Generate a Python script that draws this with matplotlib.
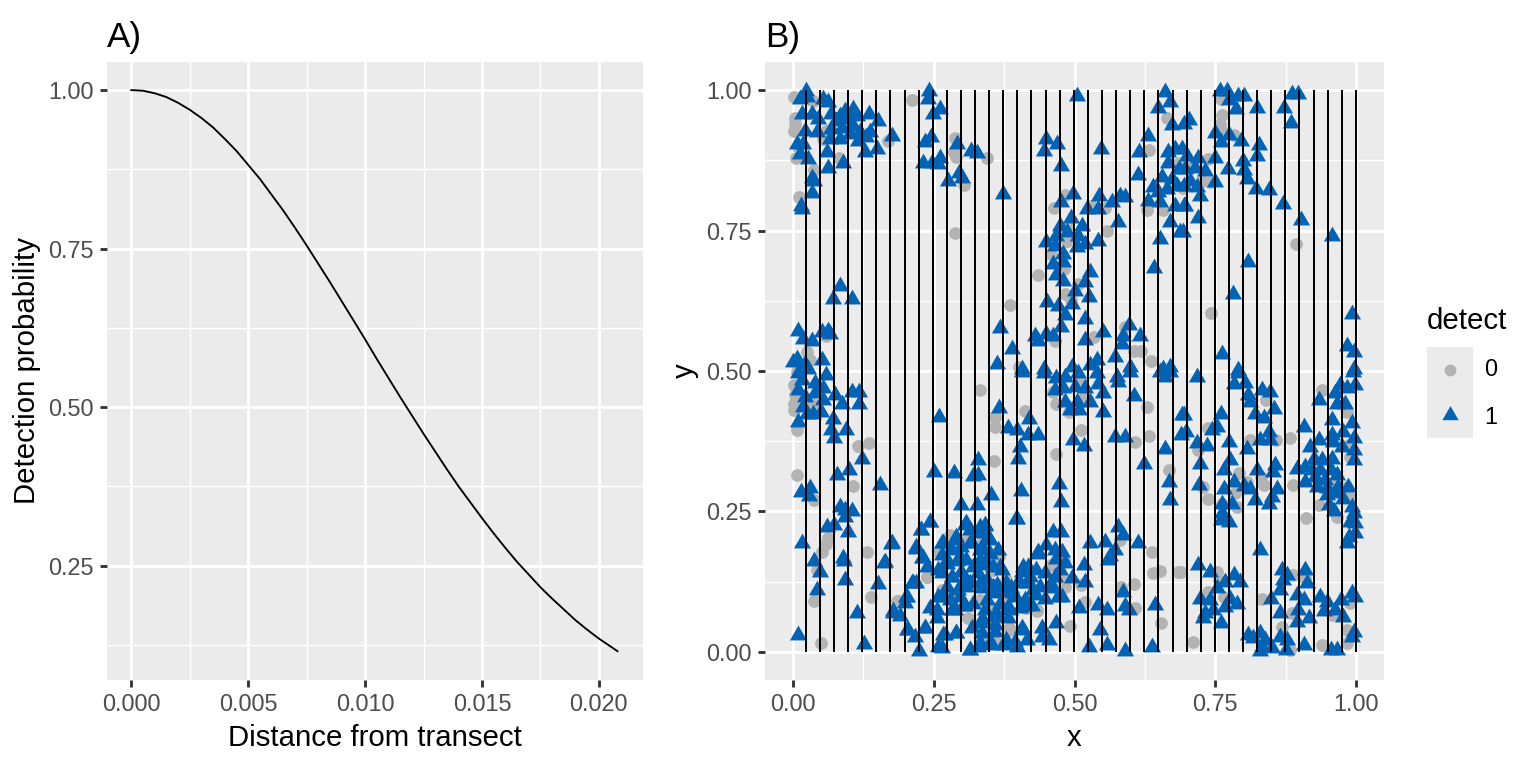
import numpy as np
import matplotlib
matplotlib.use('Agg')
import matplotlib.pyplot as plt

plt.rcParams['font.family'] = ['Liberation Sans', 'DejaVu Sans']

# panel A: detection function
curve_dist = [0.0, 0.0005, 0.001, 0.0015, 0.002, 0.0025, 0.003, 0.0035, 0.004, 0.0045, 0.005,
              0.0055, 0.006, 0.0065, 0.007, 0.0075, 0.008, 0.0085, 0.009, 0.0095, 0.010,
              0.0105, 0.011, 0.0115, 0.012, 0.0125, 0.013, 0.0135, 0.014, 0.0145, 0.015,
              0.0155, 0.016, 0.0165, 0.017, 0.0175, 0.018, 0.0185, 0.019, 0.0195, 0.020,
              0.0204, 0.0208]
curve_prob = [1.000, 0.999, 0.995, 0.989, 0.980, 0.969, 0.956, 0.941, 0.923, 0.904, 0.882,
              0.860, 0.835, 0.810, 0.783, 0.755, 0.726, 0.697, 0.667, 0.637, 0.607,
              0.576, 0.546, 0.516, 0.487, 0.458, 0.430, 0.402, 0.375, 0.350, 0.325,
              0.301, 0.278, 0.256, 0.236, 0.216, 0.198, 0.181, 0.164, 0.149, 0.135,
              0.125, 0.115]

# panel B: transect positions
transect_x = [0.0225, 0.0476, 0.0726, 0.0977, 0.1228, 0.1478, 0.1729, 0.1980, 0.2230, 0.2481,
              0.2731, 0.2982, 0.3233, 0.3483, 0.3734, 0.3985, 0.4235, 0.4486, 0.4737, 0.4987,
              0.5238, 0.5488, 0.5739, 0.5990, 0.6240, 0.6491, 0.6742, 0.6992, 0.7243, 0.7494,
              0.7744, 0.7995, 0.8245, 0.8496, 0.8747, 0.8997, 0.9248, 0.9499, 0.9749, 1.0]

# detect == 0 (grey circles), x/y pairs
det0 = np.array([
    [0.001, 0.988], [0.036, 0.981], [0.211, 0.982], [0.003, 0.951], [0.003, 0.939], [0.002, 0.928],
    [0.059, 0.928], [0.053, 0.913], [0.169, 0.910], [0.008, 0.898], [0.005, 0.879], [0.081, 0.879],
    [0.037, 0.858], [0.011, 0.809], [0.288, 0.914], [0.285, 0.889], [0.289, 0.881], [0.303, 0.831],
    [0.288, 0.746], [0.059, 0.563], [0.024, 0.533], [0.030, 0.519], [0.009, 0.510], [0.008, 0.501],
    [0.664, 0.950], [0.344, 0.880], [0.633, 0.893], [0.685, 0.871], [0.692, 0.825], [0.484, 0.813],
    [0.464, 0.791], [0.530, 0.793], [0.554, 0.790], [0.628, 0.787], [0.658, 0.787], [0.486, 0.758],
    [0.486, 0.732], [0.557, 0.750], [0.458, 0.708], [0.481, 0.682], [0.436, 0.671], [0.507, 0.655],
    [0.483, 0.637], [0.494, 0.627], [0.385, 0.618], [0.465, 0.554], [0.535, 0.560], [0.590, 0.578],
    [0.605, 0.536], [0.618, 0.535], [0.636, 0.517], [0.402, 0.507],
    [0.760, 0.984], [0.763, 0.956], [0.758, 0.939], [0.763, 0.928], [0.784, 0.920], [0.738, 0.877],
    [0.705, 0.871], [0.691, 0.871], [0.726, 0.839], [0.741, 0.836], [0.692, 0.827], [0.894, 0.726],
    [0.742, 0.603],
    [0.006, 0.498], [0.002, 0.475], [0.003, 0.457], [0.002, 0.442], [0.002, 0.430], [0.036, 0.442],
    [0.007, 0.395], [0.116, 0.366], [0.135, 0.372], [0.006, 0.315], [0.107, 0.295], [0.037, 0.270],
    [0.062, 0.202], [0.058, 0.192], [0.052, 0.177], [0.042, 0.146], [0.132, 0.178], [0.037, 0.090],
    [0.138, 0.098], [0.049, 0.015], [0.186, 0.090], [0.238, 0.133], [0.261, 0.178], [0.279, 0.208],
    [0.264, 0.107], [0.285, 0.098], [0.304, 0.128], [0.311, 0.060], [0.311, 0.205],
    [0.338, 0.202], [0.258, 0.178], [0.365, 0.170], [0.359, 0.149], [0.305, 0.128], [0.237, 0.134],
    [0.264, 0.110], [0.383, 0.098], [0.359, 0.078], [0.332, 0.092], [0.184, 0.090], [0.385, 0.039],
    [0.332, 0.021], [0.361, 0.015], [0.415, 0.078], [0.433, 0.072],
    [0.332, 0.467], [0.359, 0.418], [0.359, 0.401], [0.412, 0.428], [0.461, 0.463], [0.468, 0.442],
    [0.490, 0.427], [0.508, 0.484], [0.516, 0.454], [0.512, 0.395], [0.628, 0.436], [0.608, 0.374],
    [0.632, 0.385], [0.467, 0.353], [0.357, 0.340], [0.668, 0.324], [0.341, 0.199], [0.365, 0.170],
    [0.356, 0.146], [0.379, 0.128], [0.383, 0.098], [0.360, 0.078], [0.332, 0.092], [0.383, 0.042],
    [0.332, 0.021], [0.362, 0.015], [0.433, 0.075], [0.412, 0.078], [0.458, 0.155], [0.482, 0.164],
    [0.483, 0.128], [0.483, 0.116], [0.465, 0.116], [0.512, 0.119], [0.519, 0.089], [0.492, 0.046],
    [0.583, 0.116], [0.605, 0.120], [0.608, 0.079], [0.637, 0.177], [0.640, 0.140], [0.652, 0.144],
    [0.684, 0.143], [0.654, 0.052], [0.581, 0.199],
    [0.841, 0.448], [0.812, 0.451], [0.940, 0.467], [0.984, 0.427], [0.738, 0.398], [0.720, 0.359],
    [0.811, 0.377], [0.858, 0.377], [0.883, 0.381], [0.987, 0.368], [0.990, 0.347], [0.792, 0.318],
    [0.806, 0.303], [0.832, 0.312], [0.836, 0.297], [0.889, 0.297], [0.785, 0.282], [0.788, 0.258],
    [0.762, 0.264], [0.738, 0.273], [0.729, 0.294], [0.960, 0.297], [0.981, 0.291], [0.987, 0.276],
    [0.934, 0.261], [0.912, 0.238], [0.966, 0.241], [0.689, 0.143], [0.754, 0.143], [0.757, 0.128],
    [0.738, 0.107], [0.765, 0.098], [0.833, 0.095], [0.889, 0.137], [0.910, 0.131], [0.886, 0.069],
    [0.869, 0.044], [0.957, 0.066], [0.990, 0.087], [0.984, 0.039], [0.984, 0.015], [0.939, 0.012],
    [0.710, 0.017], [0.883, 0.004],
])

# detect == 1 (blue triangles), x/y pairs
det1 = np.array([
    [0.023, 0.998], [0.012, 0.985], [0.024, 0.987], [0.053, 0.984], [0.062, 0.978], [0.015, 0.957],
    [0.033, 0.957], [0.045, 0.948], [0.068, 0.957], [0.083, 0.954], [0.092, 0.963], [0.107, 0.966],
    [0.077, 0.945], [0.098, 0.948], [0.113, 0.954], [0.068, 0.930], [0.086, 0.933], [0.107, 0.936],
    [0.119, 0.925], [0.134, 0.957], [0.136, 0.925], [0.151, 0.945], [0.065, 0.913], [0.083, 0.913],
    [0.101, 0.922], [0.116, 0.910], [0.130, 0.916], [0.042, 0.925], [0.021, 0.928], [0.006, 0.904],
    [0.018, 0.904], [0.012, 0.886], [0.060, 0.889], [0.127, 0.889], [0.149, 0.896], [0.175, 0.919],
    [0.027, 0.877], [0.089, 0.871], [0.062, 0.862], [0.033, 0.844], [0.037, 0.839], [0.033, 0.817],
    [0.014, 0.794], [0.015, 0.788], [0.241, 0.998], [0.240, 0.984], [0.249, 0.957], [0.261, 0.966],
    [0.245, 0.916], [0.234, 0.907], [0.231, 0.871], [0.246, 0.871], [0.261, 0.880], [0.258, 0.868],
    [0.276, 0.839], [0.294, 0.853], [0.300, 0.844], [0.291, 0.904], [0.316, 0.892], [0.083, 0.652],
    [0.071, 0.628], [0.105, 0.628], [0.009, 0.572], [0.018, 0.557], [0.033, 0.554], [0.051, 0.569],
    [0.062, 0.572], [0.065, 0.566], [0.006, 0.522], [0.000, 0.516], [0.021, 0.513], [0.051, 0.519],
    [0.027, 0.504],
    [0.504, 0.990], [0.660, 0.996], [0.648, 0.969], [0.670, 0.978], [0.674, 0.938], [0.694, 0.939],
    [0.326, 0.888], [0.449, 0.913], [0.446, 0.892], [0.469, 0.904], [0.547, 0.896], [0.631, 0.919],
    [0.615, 0.890], [0.476, 0.864], [0.612, 0.848], [0.373, 0.815], [0.476, 0.800], [0.498, 0.815],
    [0.522, 0.788], [0.542, 0.788], [0.544, 0.812], [0.566, 0.801], [0.581, 0.812], [0.590, 0.809],
    [0.631, 0.803], [0.640, 0.827], [0.648, 0.818], [0.652, 0.800], [0.667, 0.889], [0.679, 0.895],
    [0.667, 0.871], [0.685, 0.859], [0.655, 0.845], [0.673, 0.842], [0.682, 0.830], [0.664, 0.824],
    [0.679, 0.794], [0.694, 0.794], [0.670, 0.765], [0.688, 0.748], [0.652, 0.735], [0.494, 0.773],
    [0.474, 0.758], [0.513, 0.758], [0.468, 0.741], [0.486, 0.747], [0.507, 0.741], [0.519, 0.726],
    [0.449, 0.730], [0.465, 0.723], [0.504, 0.720], [0.542, 0.732], [0.577, 0.765], [0.480, 0.708],
    [0.462, 0.691], [0.480, 0.694], [0.468, 0.670], [0.480, 0.661], [0.527, 0.677], [0.519, 0.658],
    [0.501, 0.643], [0.525, 0.631], [0.642, 0.683], [0.452, 0.622], [0.471, 0.616], [0.495, 0.619],
    [0.484, 0.599], [0.519, 0.593], [0.476, 0.578], [0.368, 0.577], [0.430, 0.563], [0.436, 0.554],
    [0.450, 0.566], [0.462, 0.562], [0.389, 0.539], [0.519, 0.556], [0.551, 0.569], [0.587, 0.563],
    [0.596, 0.581], [0.584, 0.548], [0.616, 0.563], [0.572, 0.525], [0.363, 0.513], [0.406, 0.504],
    [0.446, 0.504], [0.495, 0.507], [0.528, 0.510], [0.540, 0.519], [0.599, 0.507], [0.658, 0.504],
    [0.670, 0.507],
    [0.759, 0.998], [0.771, 0.998], [0.775, 0.982], [0.791, 0.990], [0.802, 0.989], [0.886, 0.993],
    [0.898, 0.993], [0.825, 0.969], [0.873, 0.969], [0.787, 0.966], [0.704, 0.947], [0.884, 0.942],
    [0.750, 0.923], [0.775, 0.920], [0.760, 0.907], [0.796, 0.910], [0.827, 0.902], [0.825, 0.883],
    [0.691, 0.895], [0.700, 0.883], [0.720, 0.880], [0.750, 0.880], [0.800, 0.873], [0.772, 0.859],
    [0.802, 0.858], [0.806, 0.842], [0.697, 0.859], [0.714, 0.862], [0.732, 0.856], [0.750, 0.836],
    [0.705, 0.839], [0.717, 0.827], [0.694, 0.830], [0.723, 0.812], [0.697, 0.794], [0.720, 0.773],
    [0.692, 0.748], [0.823, 0.824], [0.845, 0.823], [0.871, 0.797], [0.903, 0.769], [0.957, 0.740],
    [0.809, 0.694], [0.781, 0.637], [0.994, 0.602], [0.984, 0.545], [0.997, 0.533], [0.763, 0.530],
    [0.997, 0.504], [0.790, 0.501],
    [0.009, 0.496], [0.015, 0.484], [0.009, 0.466], [0.021, 0.454], [0.018, 0.436], [0.024, 0.424],
    [0.039, 0.478], [0.059, 0.493], [0.053, 0.469], [0.053, 0.448], [0.039, 0.460], [0.036, 0.424],
    [0.050, 0.427], [0.009, 0.410], [0.074, 0.457], [0.086, 0.442], [0.071, 0.415], [0.068, 0.395],
    [0.072, 0.380], [0.094, 0.395], [0.104, 0.463], [0.117, 0.463], [0.117, 0.442], [0.123, 0.343],
    [0.260, 0.418], [0.078, 0.315], [0.099, 0.324], [0.154, 0.297], [0.014, 0.285], [0.030, 0.291],
    [0.029, 0.277], [0.251, 0.321], [0.285, 0.318], [0.320, 0.313], [0.299, 0.261], [0.083, 0.258],
    [0.092, 0.252], [0.104, 0.250], [0.092, 0.241], [0.061, 0.223], [0.073, 0.226], [0.097, 0.214],
    [0.016, 0.194], [0.174, 0.192], [0.089, 0.168], [0.091, 0.161], [0.037, 0.161], [0.047, 0.143],
    [0.162, 0.159], [0.092, 0.128], [0.150, 0.121], [0.043, 0.111], [0.113, 0.070], [0.009, 0.030],
    [0.126, 0.014], [0.243, 0.232], [0.227, 0.217], [0.219, 0.187], [0.229, 0.167], [0.237, 0.152],
    [0.267, 0.193], [0.288, 0.199], [0.305, 0.226], [0.314, 0.217], [0.264, 0.172], [0.282, 0.181],
    [0.299, 0.187], [0.317, 0.193], [0.273, 0.156], [0.291, 0.161], [0.308, 0.163], [0.264, 0.140],
    [0.282, 0.134], [0.299, 0.143], [0.314, 0.122], [0.273, 0.116], [0.293, 0.110], [0.308, 0.116],
    [0.258, 0.098], [0.279, 0.092], [0.243, 0.078], [0.288, 0.075], [0.305, 0.081], [0.255, 0.060],
    [0.234, 0.042], [0.270, 0.030], [0.290, 0.033], [0.317, 0.042], [0.258, 0.009], [0.264, 0.007],
    [0.314, 0.004], [0.224, 0.002], [0.202, 0.098], [0.211, 0.122], [0.199, 0.087], [0.178, 0.072],
    [0.190, 0.064], [0.203, 0.039], [0.216, 0.027], [0.219, 0.122],
    [0.243, 0.232], [0.228, 0.217], [0.264, 0.193], [0.290, 0.205], [0.308, 0.229], [0.332, 0.223],
    [0.341, 0.226], [0.314, 0.193], [0.332, 0.181], [0.350, 0.199], [0.364, 0.181], [0.273, 0.164],
    [0.296, 0.169], [0.320, 0.152], [0.344, 0.158], [0.368, 0.152], [0.258, 0.146], [0.282, 0.134],
    [0.308, 0.128], [0.332, 0.122], [0.355, 0.116], [0.379, 0.122], [0.409, 0.152], [0.421, 0.134],
    [0.403, 0.122], [0.427, 0.110], [0.391, 0.104], [0.267, 0.098], [0.296, 0.098], [0.320, 0.086],
    [0.344, 0.092], [0.367, 0.086], [0.255, 0.075], [0.282, 0.075], [0.302, 0.081], [0.361, 0.069],
    [0.385, 0.075], [0.415, 0.081], [0.213, 0.122], [0.201, 0.098], [0.178, 0.069], [0.205, 0.039],
    [0.234, 0.042], [0.267, 0.030], [0.290, 0.033], [0.332, 0.051], [0.332, 0.015], [0.314, 0.003],
    [0.350, 0.015], [0.358, 0.036], [0.379, 0.021], [0.406, 0.039], [0.397, 0.237], [0.163, 0.160],
    [0.175, 0.193], [0.219, 0.184], [0.231, 0.167], [0.433, 0.175], [0.415, 0.021],
    [0.406, 0.498], [0.446, 0.497], [0.468, 0.487], [0.483, 0.490], [0.507, 0.496], [0.540, 0.496],
    [0.575, 0.490], [0.578, 0.481], [0.599, 0.498], [0.661, 0.490], [0.670, 0.498], [0.465, 0.466],
    [0.480, 0.469], [0.501, 0.472], [0.519, 0.469], [0.542, 0.477], [0.551, 0.460], [0.605, 0.455],
    [0.483, 0.445], [0.504, 0.445], [0.528, 0.445], [0.492, 0.430], [0.508, 0.431], [0.551, 0.427],
    [0.366, 0.435], [0.420, 0.415], [0.382, 0.398], [0.397, 0.395], [0.418, 0.386], [0.435, 0.386],
    [0.691, 0.421], [0.690, 0.386], [0.498, 0.377], [0.517, 0.366], [0.572, 0.383], [0.590, 0.383],
    [0.660, 0.362], [0.403, 0.365], [0.399, 0.344], [0.329, 0.341], [0.328, 0.315], [0.624, 0.334],
    [0.668, 0.303], [0.669, 0.270], [0.473, 0.299], [0.352, 0.279], [0.405, 0.287], [0.476, 0.267],
    [0.326, 0.261], [0.396, 0.236], [0.341, 0.224], [0.332, 0.211], [0.347, 0.202], [0.335, 0.187],
    [0.350, 0.175], [0.332, 0.163], [0.341, 0.155], [0.356, 0.152], [0.371, 0.146], [0.329, 0.140],
    [0.344, 0.128], [0.362, 0.119], [0.335, 0.113], [0.353, 0.104], [0.373, 0.107], [0.388, 0.113],
    [0.406, 0.143], [0.418, 0.152], [0.431, 0.146], [0.448, 0.140], [0.400, 0.125], [0.418, 0.122],
    [0.439, 0.116], [0.457, 0.119], [0.394, 0.098], [0.412, 0.092], [0.430, 0.101], [0.448, 0.095],
    [0.471, 0.098], [0.382, 0.080], [0.403, 0.078], [0.424, 0.081], [0.341, 0.075], [0.359, 0.063],
    [0.338, 0.057], [0.359, 0.048], [0.382, 0.060], [0.335, 0.033], [0.353, 0.012], [0.329, 0.009],
    [0.374, 0.012], [0.394, 0.018], [0.397, 0.009], [0.406, 0.042], [0.442, 0.042], [0.442, 0.027],
    [0.455, 0.021], [0.468, 0.051], [0.436, 0.178], [0.450, 0.190], [0.462, 0.214], [0.476, 0.214],
    [0.465, 0.181], [0.477, 0.178], [0.468, 0.166], [0.483, 0.158], [0.475, 0.146], [0.495, 0.131],
    [0.465, 0.134], [0.462, 0.113], [0.478, 0.098], [0.578, 0.223], [0.587, 0.208], [0.554, 0.196],
    [0.572, 0.181], [0.563, 0.170], [0.560, 0.164], [0.527, 0.194], [0.613, 0.193], [0.517, 0.155],
    [0.519, 0.124], [0.587, 0.107], [0.596, 0.075], [0.589, 0.081], [0.557, 0.075], [0.541, 0.084],
    [0.508, 0.078], [0.643, 0.084], [0.546, 0.039], [0.557, 0.012], [0.525, 0.009], [0.590, 0.001],
    [0.637, 0.009], [0.652, 0.498],
    [0.718, 0.490], [0.790, 0.496], [0.783, 0.477], [0.803, 0.478], [0.809, 0.457], [0.812, 0.445],
    [0.833, 0.466], [0.848, 0.463], [0.854, 0.433], [0.821, 0.424], [0.836, 0.416], [0.760, 0.424],
    [0.694, 0.421], [0.753, 0.401], [0.744, 0.395], [0.699, 0.392], [0.845, 0.392], [0.830, 0.377],
    [0.848, 0.377], [0.806, 0.362], [0.774, 0.374], [0.717, 0.371], [0.735, 0.366], [0.723, 0.335],
    [0.776, 0.342], [0.765, 0.323], [0.783, 0.302], [0.801, 0.296], [0.765, 0.290], [0.721, 0.297],
    [0.824, 0.323], [0.857, 0.333], [0.853, 0.321], [0.859, 0.290], [0.812, 0.290], [0.821, 0.270],
    [0.845, 0.264], [0.851, 0.276], [0.780, 0.264], [0.762, 0.264], [0.762, 0.247], [0.760, 0.235],
    [0.775, 0.232], [0.830, 0.181], [0.907, 0.401], [0.934, 0.377], [0.957, 0.386], [0.966, 0.442],
    [0.963, 0.460], [0.972, 0.475], [0.984, 0.469], [0.934, 0.449], [0.998, 0.475], [0.995, 0.498],
    [0.981, 0.442], [0.957, 0.413], [0.993, 0.407], [0.978, 0.392], [0.996, 0.380], [0.975, 0.365],
    [0.996, 0.359], [0.996, 0.341], [0.960, 0.374], [0.919, 0.365], [0.925, 0.344], [0.940, 0.341],
    [0.957, 0.344], [0.895, 0.326], [0.910, 0.329], [0.922, 0.323], [0.937, 0.323], [0.955, 0.323],
    [0.966, 0.315], [0.928, 0.311], [0.946, 0.306], [0.910, 0.303], [0.931, 0.294], [0.948, 0.291],
    [0.968, 0.294], [0.986, 0.294], [0.963, 0.282], [0.948, 0.279], [0.977, 0.273], [0.953, 0.261],
    [0.961, 0.250], [0.993, 0.258], [0.996, 0.247], [0.998, 0.229], [0.990, 0.232], [0.998, 0.211],
    [0.987, 0.205], [0.984, 0.193], [0.720, 0.155], [0.741, 0.143], [0.768, 0.125], [0.783, 0.137],
    [0.794, 0.125], [0.753, 0.113], [0.723, 0.095], [0.741, 0.092], [0.777, 0.095], [0.788, 0.086],
    [0.768, 0.080], [0.747, 0.075], [0.732, 0.069], [0.729, 0.060], [0.761, 0.051], [0.868, 0.146],
    [0.877, 0.137], [0.865, 0.110], [0.871, 0.128], [0.910, 0.146], [0.913, 0.122], [0.849, 0.095],
    [0.895, 0.101], [0.907, 0.092], [0.865, 0.069], [0.898, 0.075], [0.895, 0.054], [0.916, 0.060],
    [0.937, 0.098], [0.949, 0.089], [0.973, 0.092], [0.993, 0.104], [0.998, 0.098], [0.943, 0.072],
    [0.963, 0.075], [0.978, 0.063], [0.996, 0.036], [0.993, 0.027], [0.809, 0.030], [0.818, 0.024],
    [0.830, 0.033], [0.839, 0.021], [0.833, 0.009], [0.851, 0.007], [0.865, 0.027], [0.877, 0.021],
    [0.876, 0.004], [0.907, 0.012], [0.955, 0.004], [0.966, 0.004], [0.830, 0.001],
])

BLUE = '#0063B6'
GREY = '#B3B3B3'
# equilateral triangle like ggplot shape 17
tri = [(0, 1), (-0.866, -0.5), (0.866, -0.5)]


def gg_style(ax):
    ax.set_facecolor('#EBEBEB')
    for s in ax.spines.values():
        s.set_visible(False)
    ax.grid(which='major', color='white', lw=1.07)
    ax.grid(which='minor', color='white', lw=0.53)
    ax.set_axisbelow(True)
    ax.tick_params(which='major', length=2.75, width=1.07, color='#333333',
                   labelcolor='#4D4D4D', labelsize=8.8, pad=2.2)
    ax.tick_params(which='minor', length=0)


fig = plt.figure(figsize=(8, 4), dpi=192)

# A) detection function
ax1 = fig.add_axes([107 / 1536, 88 / 768, 536 / 1536, 618 / 768])
gg_style(ax1)
ax1.plot(curve_dist, curve_prob, color='black', lw=0.7)
ax1.set_xlim(-0.00104, 0.02189)
ax1.set_ylim(0.0696, 1.0443)
ax1.set_xticks([0, 0.005, 0.010, 0.015, 0.020])
ax1.set_xticklabels(['0.000', '0.005', '0.010', '0.015', '0.020'])
ax1.set_xticks([0.0025, 0.0075, 0.0125, 0.0175], minor=True)
ax1.set_yticks([0.25, 0.50, 0.75, 1.00])
ax1.set_yticklabels(['0.25', '0.50', '0.75', '1.00'])
ax1.set_yticks([0.125, 0.375, 0.625, 0.875], minor=True)
ax1.set_xlabel('Distance from transect', fontsize=11, labelpad=2.75)
ax1.set_ylabel('Detection probability', fontsize=11, labelpad=2.75)
ax1.set_title('A)', loc='left', fontsize=13.2, pad=5.5)

# B) simulated survey
ax2 = fig.add_axes([765 / 1536, 88 / 768, 619 / 1536, 618 / 768])
gg_style(ax2)
ax2.scatter(det0[:, 0], det0[:, 1], s=23, color=GREY, linewidths=0, zorder=2)
ax2.scatter(det1[:, 0], det1[:, 1], s=55, marker=tri, color=BLUE, linewidths=0, zorder=2)
ax2.vlines(transect_x, 0, 1, color='black', lw=0.75, zorder=3)
ax2.set_xlim(-0.05, 1.05)
ax2.set_ylim(-0.05, 1.05)
ticks = [0, 0.25, 0.5, 0.75, 1.0]
labels = ['0.00', '0.25', '0.50', '0.75', '1.00']
ax2.set_xticks(ticks)
ax2.set_xticklabels(labels)
ax2.set_yticks(ticks)
ax2.set_yticklabels(labels)
ax2.set_xticks([0.125, 0.375, 0.625, 0.875], minor=True)
ax2.set_yticks([0.125, 0.375, 0.625, 0.875], minor=True)
ax2.set_xlabel('x', fontsize=11, labelpad=2.75)
ax2.set_ylabel('y', fontsize=11, labelpad=2.75)
ax2.set_title('B)', loc='left', fontsize=13.2, pad=5.5)

# legend drawn by hand to match ggplot's guide
lax = fig.add_axes([1427 / 1536, (768 - 438) / 768, 46 / 1536, 91 / 768])
lax.set_facecolor('#EBEBEB')
for s in lax.spines.values():
    s.set_visible(False)
lax.set_xticks([])
lax.set_yticks([])
lax.set_xlim(0, 1)
lax.set_ylim(0, 1)
lax.scatter([0.5], [0.747], s=20, color=GREY, linewidths=0)
lax.scatter([0.5], [0.253], s=50, marker=tri, color=BLUE, linewidths=0)
fig.text(1427 / 1536, 1 - 321 / 768, 'detect', fontsize=11, va='center', ha='left')
fig.text(1484 / 1536, 1 - 370 / 768, '0', fontsize=8.8, va='center', ha='left')
fig.text(1484 / 1536, 1 - 417 / 768, '1', fontsize=8.8, va='center', ha='left')

fig.savefig('out.png', dpi=192)
